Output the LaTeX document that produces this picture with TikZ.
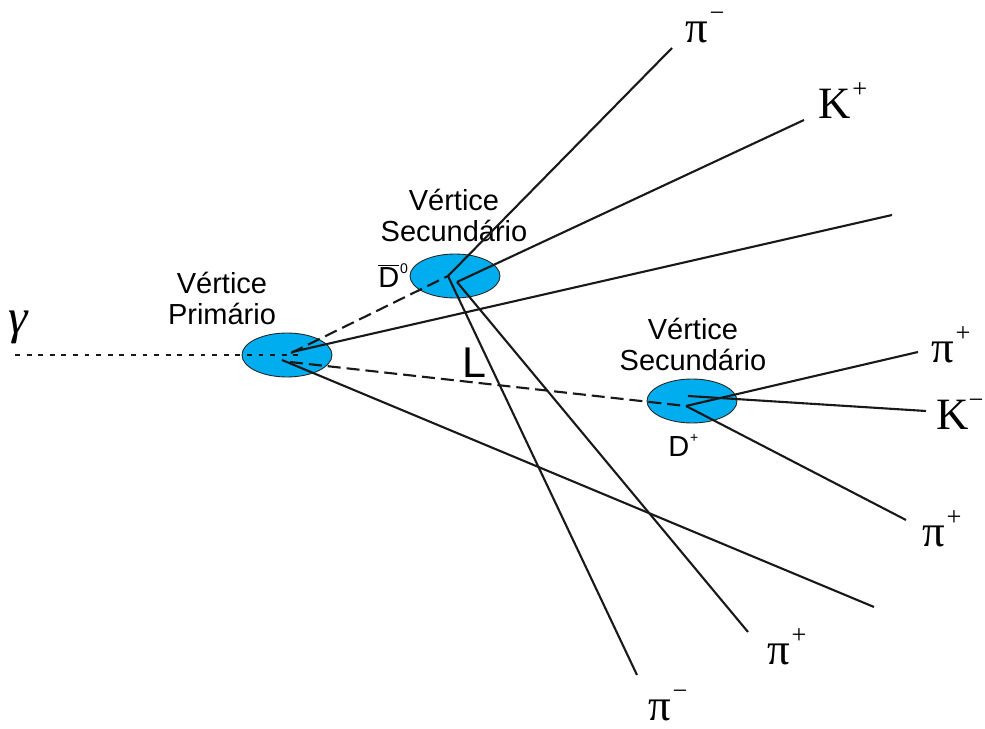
\documentclass[tikz,border=0pt]{standalone}
\usepackage{fontspec}
\setmainfont{Liberation Serif}
\setsansfont{Liberation Sans}
\usetikzlibrary{positioning,shapes.geometric}
\definecolor{vtxfill}{RGB}{0,173,238}
\newcommand{\ptcl}[2]{#1\kern1pt\raisebox{12.5pt}{\fontsize{15}{15}\selectfont #2}}
\newcommand{\mes}[2]{#1\kern0.5pt\raisebox{8.5pt}{\fontsize{8}{8}\selectfont #2}}
\tikzset{
  vtx/.style={ellipse, draw=black!85, line width=0.5pt, fill=vtxfill, inner sep=0pt,
    minimum width=1.8cm, minimum height=0.88cm},
  trk/.style={draw=black!90, line width=1.2pt},
  flight/.style={draw=black!90, line width=1.2pt, dash pattern=on 7.4pt off 3.4pt},
  photon/.style={draw=black!90, line width=1.3pt, dash pattern=on 2.8pt off 3.8pt},
  plbl/.style={inner sep=0pt, anchor=base west, font=\fontsize{25.5}{28}\selectfont},
  mlbl/.style={inner sep=0pt, anchor=base west, font=\sffamily\fontsize{16.5}{18}\selectfont},
  vlbl/.style={align=center, inner sep=0pt, font=\sffamily\fontsize{16.5}{17.65}\selectfont}
}
\begin{document}
\begin{tikzpicture}[x=0.02cm, y=-0.02cm]
  \useasboundingbox (0,0) rectangle (985,729);
  % vertices
  \node[vtx] (prim) at (287,355) {};
  \node[vtx] (secA) at (455,276) {};
  \node[vtx] (secB) at (692,401) {};
  \node[vlbl] (primtxt) at (222,298) {Vértice\\Primário};
  \node[vlbl] (secAtxt) at (454,215) {Vértice\\Secundário};
  \node[vlbl] (secBtxt) at (693,344) {Vértice\\Secundário};
  \node[mlbl] (dzero) at (378,288) {\mes{$\overline{\mbox{D}}$}{0}};
  \node[mlbl] (dplus) at (668,457) {\mes{D}{+}};
  \node[inner sep=0pt, anchor=base west, font=\sffamily\fontsize{24.5}{26}\selectfont] (len) at (462,378) {L};
  % track ends and starts
  \coordinate (gin) at (15,355);
  \coordinate (gout) at (300,355);
  \coordinate (p1) at (292,352);
  \coordinate (p2) at (291,353);
  \coordinate (p3) at (290,362);
  \coordinate (p4) at (282,360);
  \coordinate (a1) at (448,276);
  \coordinate (a2) at (457,282);
  \coordinate (b1) at (686,406);
  \coordinate (b2) at (688,396);
  \coordinate (eT) at (892,215);
  \coordinate (eB) at (874,607);
  \coordinate (e1) at (672,48);
  \coordinate (e2) at (804,120);
  \coordinate (e3) at (637,675);
  \coordinate (e4) at (748,632);
  \coordinate (e5) at (918,352);
  \coordinate (e6) at (926,411);
  \coordinate (e7) at (906,520);
  % particles
  \node[plbl, font=\fontsize{28}{30}\selectfont] (gam) at (8,334) {\textit{γ}};
  \node[plbl] (pimA) at (685,43) {\ptcl{π}{−}};
  \node[plbl] (kp) at (818,119) {\ptcl{K}{+}};
  \node[plbl] (pipA) at (931,363) {\ptcl{π}{+}};
  \node[plbl] (km) at (936,430) {\ptcl{K}{\kern-1pt−}};
  \node[plbl] (pipB) at (922,547) {\ptcl{π}{+}};
  \node[plbl] (pipC) at (767,665) {\ptcl{π}{+}};
  \node[plbl] (pimB) at (648,721) {\ptcl{π}{−}};
  % lines
  \draw[photon] (gin) -- (gout);
  \draw[flight] (p2) -- (a1);
  \draw[flight] (p3) -- (b1);
  \draw[trk] (p1) -- (eT);
  \draw[trk] (p4) -- (eB);
  \draw[trk] (a1) -- (e1);
  \draw[trk] (a1) -- (e3);
  \draw[trk] (a2) -- (e2);
  \draw[trk] (a2) -- (e4);
  \draw[trk] (b1) -- (e5);
  \draw[trk] (b2) -- (e6);
  \draw[trk] (b1) -- (e7);
\end{tikzpicture}
\end{document}
